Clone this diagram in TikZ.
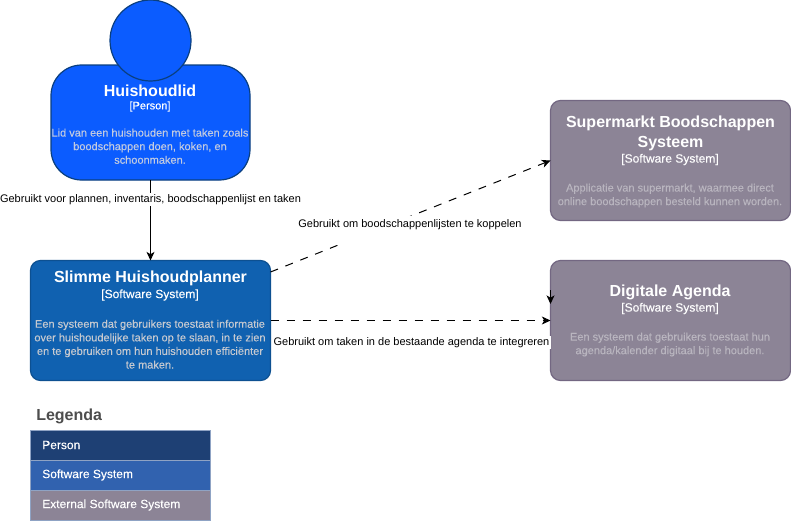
\documentclass[tikz,border=0pt]{standalone}
\usepackage{fontspec}
\setmainfont{Liberation Sans}
\newfontfamily\heavier[FakeBold=0.12]{Liberation Sans}
\usetikzlibrary{arrows.meta}
\definecolor{personfill}{HTML}{0B5CFF}
\definecolor{personline}{HTML}{0A3F7F}
\definecolor{swfill}{HTML}{1061B0}
\definecolor{swline}{HTML}{0D5091}
\definecolor{extfill}{HTML}{8C8496}
\definecolor{extline}{HTML}{736782}
\definecolor{legperson}{HTML}{1E4074}
\definecolor{legsw}{HTML}{3162AF}
\definecolor{legline}{HTML}{8FA3C4}
\definecolor{exttext}{HTML}{B9B5BF}
\definecolor{swtext}{HTML}{C6C9D0}
\definecolor{ptext}{HTML}{C3CBE0}
\definecolor{legtitle}{HTML}{4D4D4D}
\tikzset{
  x=0.75pt,y=-0.75pt,
  boxbase/.style={draw,line width=0.9pt,rounded corners=7.5pt,minimum width=180pt,minimum height=90pt,inner sep=0pt,outer sep=0pt},
  swbox/.style={boxbase,fill=swfill,draw=swline},
  extbox/.style={boxbase,fill=extfill,draw=extline},
  title/.style={text=white,font=\bfseries\fontsize{12}{14.5}\selectfont,align=center,inner sep=0pt},
  kind/.style={text=white,font=\heavier\fontsize{9}{11}\selectfont,align=center,inner sep=0pt},
  body/.style={font=\heavier\fontsize{8.25}{10.2}\selectfont,align=center,inner sep=0pt},
  rel/.style={line width=0.75pt,-{Stealth[length=6.5pt,width=6pt,inset=1.8pt]}},
  reldash/.style={rel,dash pattern=on 6pt off 6pt},
  rellabel/.style={fill=white,text=black,font=\fontsize{8.25}{10}\selectfont,inner sep=1pt},
  legrow/.style={draw=legline,line width=0.75pt,minimum width=135pt,minimum height=22.5pt,inner sep=0pt,outer sep=0pt},
  legtext/.style={text=white,font=\heavier\fontsize{9}{11}\selectfont,anchor=west,inner sep=0pt},
}
\begin{document}
\begin{tikzpicture}
\useasboundingbox (0,0) rectangle (791,521);
% person
\node[draw=personline,fill=personfill,line width=0.9pt,rounded corners=23pt,minimum width=149.25pt,minimum height=86.25pt,inner sep=0pt,outer sep=0pt] (person) at (150.5,122.5) {};
\node[draw=personline,fill=personfill,line width=0.9pt,circle,minimum size=60.75pt,inner sep=0pt] (head) at (150.5,40.5) {};
\node[title] (ptitle) at (150,90.5) {Huishoudlid};
\node[kind,font=\heavier\fontsize{8.25}{10}\selectfont] (pkind) at (150,106.5) {[Person]};
\node[body,text=ptext] (pbody) at (150,146.2) {Lid van een huishouden met taken zoals\\boodschappen doen, koken, en\\schoonmaken.};
% main system
\node[swbox] (sw) at (150.5,320.5) {};
\node[title] (stitle) at (150.5,278) {Slimme Huishoudplanner};
\node[kind] (skind) at (150,295) {[Software System]};
\node[body,text=swtext] (sbody) at (150,344.2) {Een systeem dat gebruikers toestaat informatie\\over huishoudelijke taken op te slaan, in te zien\\en te gebruiken om hun huishouden efficiënter\\te maken.};
% supermarket
\node[extbox] (market) at (670.5,160.5) {};
\node[title] (mtitle) at (670.5,133.5) {Supermarkt Boodschappen\\Systeem};
\node[kind] (mkind) at (670,159.5) {[Software System]};
\node[body,text=exttext] (mbody) at (670,195.5) {Applicatie van supermarkt, waarmee direct\\online boodschappen besteld kunnen worden.};
% agenda
\node[extbox] (agenda) at (670.5,320.5) {};
\node[title] (atitle) at (670,292.5) {Digitale Agenda};
\node[kind] (akind) at (670,308.5) {[Software System]};
\node[body,text=exttext] (abody) at (670,344.5) {Een systeem dat gebruikers toestaat hun\\agenda/kalender digitaal bij te houden.};
% connectors
\coordinate (swout) at (270.5,272);
\coordinate (stubtop) at (550.5,290);
\coordinate (stubend) at (550.5,304);
\draw[rel] (person.south) -- (sw.north) node[rellabel,pos=0.24] (l1) {Gebruikt voor plannen, inventaris, boodschappenlijst en taken};
\draw[reldash] (swout) -- (market.west);
\node[rellabel,anchor=north,inner ysep=0pt,text height=8.25pt,text depth=13.5pt] (l2) at (410,216) {Gebruikt om boodschappenlijsten te koppelen};
\draw[reldash] (sw.east) -- (agenda.west);
\node[rellabel] (l3) at (411.5,342.5) {Gebruikt om taken in de bestaande agenda te integreren};
\draw[rel] (stubtop) -- (stubend);
% legend
\node[text=legtitle,font=\bfseries\fontsize{12}{14}\selectfont,anchor=west,inner sep=0pt] (legend) at (36,416.5) {Legenda};
\node[legrow,fill=legperson] (lp) at (120.5,445) {};
\node[legrow,fill=legsw] (ls) at (120.5,475) {};
\node[legrow,fill=extfill] (le) at (120.5,505) {};
\node[legtext] (lpt) at (42,445) {Person};
\node[legtext] (lst) at (42,475) {Software System};
\node[legtext] (let) at (42,505) {External Software System};
\end{tikzpicture}
\end{document}
